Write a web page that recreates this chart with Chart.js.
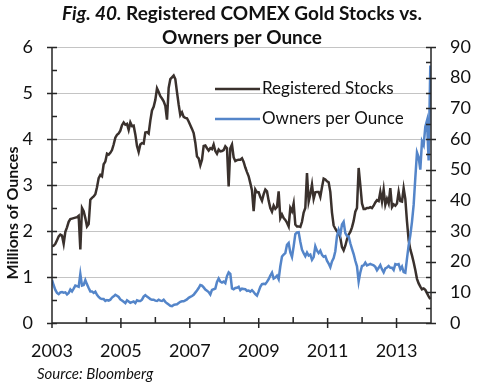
<!DOCTYPE html>
<html lang="en">
<head>
<meta charset="UTF-8">
<title>Registered COMEX Gold Stocks vs. Owners per Ounce</title>
<script src="https://cdn.jsdelivr.net/npm/chart.js"></script>
<style>
  html, body { margin: 0; padding: 0; background: #fff; }
  #wrap { width: 480px; height: 384px; }
</style>
</head>
<body>
<div id="wrap"><canvas id="goldChart" width="480" height="384"></canvas></div>
<script>
// readings taken off the original, one every ~2.5 weeks from Jan 2003
const startYear = 2003;
const sampleStep = 0.04837; // years between readings

// millions of ounces (left axis)
const registeredStocks = [
  1.67, 1.68, 1.72, 1.80, 1.88, 1.92, 1.90, 1.72, 1.98, 2.08,
  2.20, 2.26, 2.27, 2.28, 2.29, 2.30, 2.33, 1.60, 2.50, 2.43,
  2.28, 2.10, 2.15, 2.68, 2.72, 2.75, 2.80, 2.95, 3.15, 3.22,
  3.19, 3.45, 3.51, 3.68, 3.66, 3.70, 3.76, 3.88, 4.03, 4.09,
  4.12, 4.18, 4.30, 4.36, 4.31, 4.33, 4.20,
  4.36, 4.28, 4.29, 4.10, 3.85, 3.72, 3.88, 3.91, 3.90, 4.14,
  4.15, 4.12, 4.40, 4.62, 4.70, 4.85, 5.10, 5.02, 4.93, 4.88,
  4.82, 4.72, 4.42, 5.11, 5.30, 5.34, 5.38, 5.30, 5.02, 4.75,
  4.52, 4.58, 4.48, 4.46, 4.45, 4.38, 4.30, 4.22, 4.13, 3.92,
  3.62, 3.58, 3.43, 3.55, 3.85, 3.86, 3.80, 3.75,
  3.80, 3.78, 3.88, 3.74, 3.68, 3.77, 3.73, 3.74, 3.76, 3.84,
  3.80, 2.97, 3.80, 3.88, 3.60, 3.52, 3.54, 3.55, 3.55, 3.58,
  3.50, 3.38, 3.28, 3.19, 3.04, 2.88, 2.43, 2.90, 2.84, 2.84,
  2.74, 2.66, 2.80, 2.90, 2.86, 2.66, 2.50, 2.42, 2.55, 2.48,
  2.52, 2.86, 2.28, 2.36, 2.28, 2.24, 2.18, 2.10,
  2.50, 2.43, 2.60, 2.14, 2.10, 2.10, 2.09, 2.20, 2.40, 2.50,
  3.26, 2.64, 2.80, 3.01, 2.70, 2.84, 2.85, 2.85, 2.74, 2.95,
  3.14, 3.12, 3.08, 3.06, 2.85, 2.40, 2.12, 2.05, 1.99, 1.96,
  1.85, 1.65, 1.58, 1.68, 1.82, 1.92, 1.98, 2.08, 2.22, 2.42,
  2.50, 3.37, 3.00, 2.60, 2.48, 2.48, 2.50, 2.50,
  2.52, 2.50, 2.55, 2.62, 2.67, 2.65, 2.85, 2.64, 2.90, 2.57,
  2.70, 2.60, 2.93, 2.52, 2.58, 2.55, 2.60, 2.85, 2.65, 2.64,
  2.93, 2.70, 2.21, 1.80, 1.60, 1.47, 1.32, 1.15, 0.96, 0.86,
  0.79, 0.73, 0.75, 0.72, 0.65, 0.58, 0.52
];

// owners per ounce (right axis)
const ownersPerOunce = [
  14.1, 12.3, 10.8, 9.8, 9.4, 10.0, 10.1, 9.9, 10.0, 9.3,
  9.8, 10.9, 10.3, 11.2, 12.2, 12.0, 11.8, 16.0, 12.2, 12.4,
  14.0, 12.6, 11.4, 10.3, 10.3, 9.8, 10.2, 9.2, 8.5, 8.0,
  7.8, 7.8, 7.2, 7.5, 7.3, 7.6, 8.3, 8.7, 9.2, 8.9,
  8.5, 7.7, 7.3, 6.9, 6.5, 7.4, 7.0,
  6.6, 6.8, 7.0, 6.5, 7.4, 7.2, 7.2, 7.6, 8.6, 9.1,
  8.6, 8.2, 7.8, 7.6, 7.6, 7.3, 7.2, 7.6, 7.3, 7.2,
  7.6, 6.9, 6.4, 6.0, 5.6, 5.5, 5.9, 6.0, 6.1, 6.5,
  6.9, 7.1, 7.1, 7.4, 7.7, 8.2, 8.5, 8.8, 9.2, 9.9,
  10.6, 11.4, 12.4, 12.2, 11.6, 10.9, 10.5, 10.1,
  9.3, 10.8, 11.0, 11.2, 13.4, 14.5, 13.5, 13.2, 13.5, 13.0,
  15.3, 16.5, 16.0, 11.3, 11.0, 11.4, 11.5, 11.8, 10.7, 11.2,
  11.1, 11.0, 10.5, 10.6, 10.2, 10.7, 10.1, 9.4, 8.9, 10.3,
  11.8, 12.7, 12.8, 12.7, 13.4, 14.3, 15.5, 16.4, 14.5, 14.8,
  15.4, 14.3, 18.5, 21.7, 22.3, 22.8, 25.5, 26.1,
  23.0, 21.5, 25.0, 29.0, 29.5, 29.6, 26.5, 23.9, 22.8, 21.8,
  23.0, 22.0, 22.3, 20.6, 21.5, 25.0, 23.6, 22.8, 23.6, 22.2,
  21.6, 21.8, 20.3, 19.4, 18.2, 20.1, 21.2, 23.4, 28.3, 30.4,
  28.8, 32.1, 33.0, 29.3, 28.4, 28.2, 26.0, 24.2, 22.5, 20.3,
  18.5, 13.5, 16.5, 18.6, 18.8, 19.7, 18.8, 19.0,
  19.3, 19.0, 18.8, 18.3, 17.2, 18.0, 18.9, 17.5, 16.5, 17.8,
  18.1, 18.6, 18.0, 18.0, 17.3, 19.2, 19.0, 19.2, 17.5, 18.4,
  16.6, 16.4, 21.0, 25.3, 28.6, 33.0, 38.5, 47.3, 55.6, 54.0,
  50.0, 59.2, 58.0, 64.0, 66.0, 53.0, 84.0
];

const yearTicks = [2003, 2005, 2007, 2009, 2011, 2013];
const minorYearTicks = [2004, 2006, 2008, 2010, 2012];
const stockColor = '#3a312d';
const ownersColor = '#5485c9';
const font = 'Lato, "Open Sans", sans-serif';

const toPoints = arr => arr.map((v, i) => ({ x: startYear + i * sampleStep, y: v }));

// axes, ticks, titles, legend and source line drawn by hand to mimic the Excel look
const decor = {
  id: 'decor',
  afterDraw(chart) {
    const { ctx, chartArea: a, scales } = chart;
    ctx.save();
    ctx.strokeStyle = '#262626';
    ctx.lineWidth = 1.5;
    ctx.beginPath();
    ctx.moveTo(a.left, a.top); ctx.lineTo(a.left, a.bottom);
    ctx.lineTo(a.right, a.bottom); ctx.lineTo(a.right, a.top);
    for (let v = 0; v <= 6; v += 0.5) {
      const py = Math.round(scales.y.getPixelForValue(v)) + 0.5;
      ctx.moveTo(a.left - (v % 1 === 0 ? 5 : 0), py); ctx.lineTo(a.left + 5, py);
    }
    for (let v = 0; v <= 90; v += 5) {
      const py = Math.round(scales.y1.getPixelForValue(v)) + 0.5;
      ctx.moveTo(a.right - 5, py); ctx.lineTo(a.right + (v % 10 === 0 ? 5 : 0), py);
    }
    yearTicks.forEach(yr => {
      const px = scales.x.getPixelForValue(yr);
      ctx.moveTo(px, a.bottom - 5); ctx.lineTo(px, a.bottom + 5);
    });
    minorYearTicks.forEach(yr => {
      const px = scales.x.getPixelForValue(yr);
      ctx.moveTo(px, a.bottom - 6); ctx.lineTo(px, a.bottom);
    });
    ctx.stroke();

    ctx.fillStyle = '#111';
    ctx.textBaseline = 'middle';
    // title
    const t1a = 'Fig. 40.', t1b = ' Registered COMEX Gold Stocks vs.';
    ctx.font = 'italic bold 19px ' + font;
    const wa = ctx.measureText(t1a).width;
    ctx.font = 'bold 19px ' + font;
    const wb = ctx.measureText(t1b).width;
    let tx = 242 - (wa + wb) / 2;
    ctx.textAlign = 'left';
    ctx.font = 'italic bold 19px ' + font;
    ctx.fillText(t1a, tx, 14);
    ctx.font = 'bold 19px ' + font;
    ctx.fillText(t1b, tx + wa, 14);
    ctx.textAlign = 'center';
    ctx.fillText('Owners per Ounce', 242, 38);

    // y axis title
    ctx.save();
    ctx.translate(13, 213);
    ctx.rotate(-Math.PI / 2);
    ctx.font = 'bold 16px ' + font;
    ctx.fillText('Millions of Ounces', 0, 0);
    ctx.restore();

    // legend
    const items = [
      { label: 'Registered Stocks', color: stockColor, y: 89 },
      { label: 'Owners per Ounce', color: ownersColor, y: 119 }
    ];
    ctx.font = '17px ' + font;
    ctx.textAlign = 'left';
    items.forEach(it => {
      ctx.strokeStyle = it.color;
      ctx.lineWidth = 2.5;
      ctx.beginPath();
      ctx.moveTo(215, it.y); ctx.lineTo(260, it.y);
      ctx.stroke();
      ctx.fillStyle = '#111';
      ctx.fillText(it.label, 262, it.y);
    });

    // source
    ctx.font = 'italic 15px ' + font;
    ctx.fillText('Source: Bloomberg', 37, 374);
    ctx.restore();
  }
};

new Chart(document.getElementById('goldChart'), {
  type: 'line',
  data: {
    datasets: [
      {
        label: 'Owners per Ounce',
        data: toPoints(ownersPerOunce),
        yAxisID: 'y1',
        borderColor: ownersColor,
        borderWidth: 2.5,
        pointRadius: 0,
        tension: 0,
        order: 0
      },
      {
        label: 'Registered Stocks',
        data: toPoints(registeredStocks),
        yAxisID: 'y',
        borderColor: stockColor,
        borderWidth: 2.5,
        pointRadius: 0,
        tension: 0,
        order: 1
      }
    ]
  },
  options: {
    responsive: false,
    animation: false,
    devicePixelRatio: 1,
    layout: { padding: { top: 47, left: 0, right: 0, bottom: 0 } },
    plugins: { legend: { display: false }, tooltip: { enabled: false } },
    scales: {
      x: {
        type: 'linear',
        min: 2003,
        max: 2014,
        afterBuildTicks: s => { s.ticks = yearTicks.map(v => ({ value: v })); },
        afterFit: s => { s.height = 61; },
        grid: { display: false, drawTicks: false },
        border: { display: false },
        ticks: {
          color: '#111', font: { family: font, size: 18 }, padding: 17,
          maxRotation: 0, autoSkip: false, callback: v => String(v)
        }
      },
      y: {
        position: 'left',
        min: 0,
        max: 6,
        afterFit: s => { s.width = 52; },
        grid: { color: '#c4c4c4', lineWidth: 1, drawTicks: false },
        border: { display: false },
        ticks: { stepSize: 1, color: '#111', font: { family: font, size: 18 }, padding: 19 }
      },
      y1: {
        position: 'right',
        min: 0,
        max: 90,
        afterFit: s => { s.width = 49; },
        grid: { drawOnChartArea: false, drawTicks: false },
        border: { display: false },
        ticks: { stepSize: 10, color: '#111', font: { family: font, size: 18 }, padding: 19 }
      }
    }
  },
  plugins: [decor]
});
</script>
</body>
</html>
